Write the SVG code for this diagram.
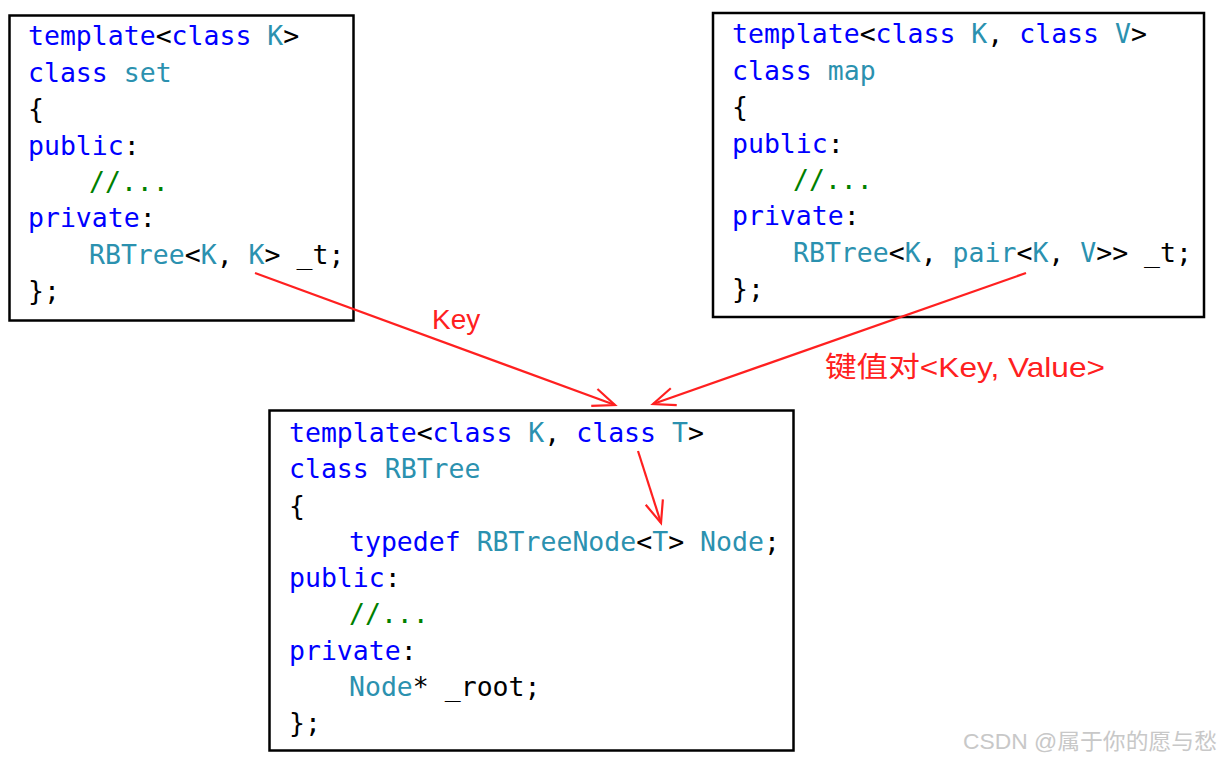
<svg xmlns="http://www.w3.org/2000/svg" width="1221" height="759" viewBox="0 0 1221 759">
<style>
.code{font-family:"DejaVu Sans Mono","Liberation Mono",monospace;font-size:26.5px;fill:#000;white-space:pre}
.kw{fill:#0000ff}
.ty{fill:#2b91af}
.cm{fill:#008000}
.box{fill:#fff;stroke:#000;stroke-width:2.5}
.conn{stroke:#ff2020;stroke-width:2.2;fill:none}
.lbl{font-family:"Liberation Sans","Noto Sans CJK SC",sans-serif;fill:#ff2020}
.wm{font-family:"Liberation Sans","Noto Sans CJK SC",sans-serif;fill:#c8c8c8;font-size:22px}
</style>
<defs>
<marker id="arr" markerUnits="userSpaceOnUse" markerWidth="40" markerHeight="40" refX="0" refY="0" orient="auto" overflow="visible">
<path d="M -22 -9 L 0 0 L -22 9" fill="none" stroke="#ff2020" stroke-width="2.2"/>
</marker>
</defs>
<rect width="1221" height="759" fill="#fff"/>

<g id="set">
<rect class="box" x="9.5" y="15.5" width="344" height="305"/>
<text class="code" xml:space="preserve" x="28" y="45"><tspan class="kw">template</tspan>&lt;<tspan class="kw">class</tspan> <tspan class="ty">K</tspan>&gt;</text>
<text class="code" xml:space="preserve" x="28" y="82"><tspan class="kw">class</tspan> <tspan class="ty">set</tspan></text>
<text class="code" x="28" y="118">{</text>
<text class="code" x="28" y="155"><tspan class="kw">public</tspan>:</text>
<text class="code cm" x="89" y="191">//...</text>
<text class="code" x="28" y="227"><tspan class="kw">private</tspan>:</text>
<text class="code" xml:space="preserve" x="89" y="264"><tspan class="ty">RBTree</tspan>&lt;<tspan class="ty">K</tspan>, <tspan class="ty">K</tspan>&gt; _t;</text>
<text class="code" x="28" y="300">};</text>
</g>

<g id="map">
<rect class="box" x="713" y="13" width="491" height="304"/>
<text class="code" xml:space="preserve" x="732" y="43"><tspan class="kw">template</tspan>&lt;<tspan class="kw">class</tspan> <tspan class="ty">K</tspan>, <tspan class="kw">class</tspan> <tspan class="ty">V</tspan>&gt;</text>
<text class="code" xml:space="preserve" x="732" y="80"><tspan class="kw">class</tspan> <tspan class="ty">map</tspan></text>
<text class="code" x="732" y="116">{</text>
<text class="code" x="732" y="153"><tspan class="kw">public</tspan>:</text>
<text class="code cm" x="793" y="189">//...</text>
<text class="code" x="732" y="225"><tspan class="kw">private</tspan>:</text>
<text class="code" xml:space="preserve" x="793" y="262"><tspan class="ty">RBTree</tspan>&lt;<tspan class="ty">K</tspan>, <tspan class="ty">pair</tspan>&lt;<tspan class="ty">K</tspan>, <tspan class="ty">V</tspan>&gt;&gt; _t;</text>
<text class="code" x="732" y="298">};</text>
</g>

<g id="rbtree">
<rect class="box" x="269.5" y="410.5" width="524" height="340"/>
<text class="code" xml:space="preserve" x="289" y="442"><tspan class="kw">template</tspan>&lt;<tspan class="kw">class</tspan> <tspan class="ty">K</tspan>, <tspan class="kw">class</tspan> <tspan class="ty">T</tspan>&gt;</text>
<text class="code" xml:space="preserve" x="289" y="478"><tspan class="kw">class</tspan> <tspan class="ty">RBTree</tspan></text>
<text class="code" x="289" y="515">{</text>
<text class="code" xml:space="preserve" x="349" y="551"><tspan class="kw">typedef</tspan> <tspan class="ty">RBTreeNode</tspan>&lt;<tspan class="ty">T</tspan>&gt; <tspan class="ty">Node</tspan>;</text>
<text class="code" x="289" y="587"><tspan class="kw">public</tspan>:</text>
<text class="code cm" x="349" y="623">//...</text>
<text class="code" x="289" y="660"><tspan class="kw">private</tspan>:</text>
<text class="code" xml:space="preserve" x="349" y="696"><tspan class="ty">Node</tspan>* _root;</text>
<text class="code" x="289" y="732">};</text>
</g>

<g id="connectors">
<line class="conn" x1="255" y1="273" x2="615" y2="405" marker-end="url(#arr)"/>
<line class="conn" x1="1026" y1="273" x2="653" y2="404" marker-end="url(#arr)"/>
<line class="conn" x1="638" y1="451" x2="661" y2="523" marker-end="url(#arr)"/>
</g>

<g id="labels">
<text class="lbl" x="432" y="329" font-size="28">Key</text>
<text class="lbl" x="825" y="377" font-size="28" textLength="280" lengthAdjust="spacingAndGlyphs">键值对&lt;Key, Value&gt;</text>
</g>

<text class="wm" x="963" y="749" textLength="254" lengthAdjust="spacingAndGlyphs">CSDN @属于你的愿与愁</text>
</svg>
